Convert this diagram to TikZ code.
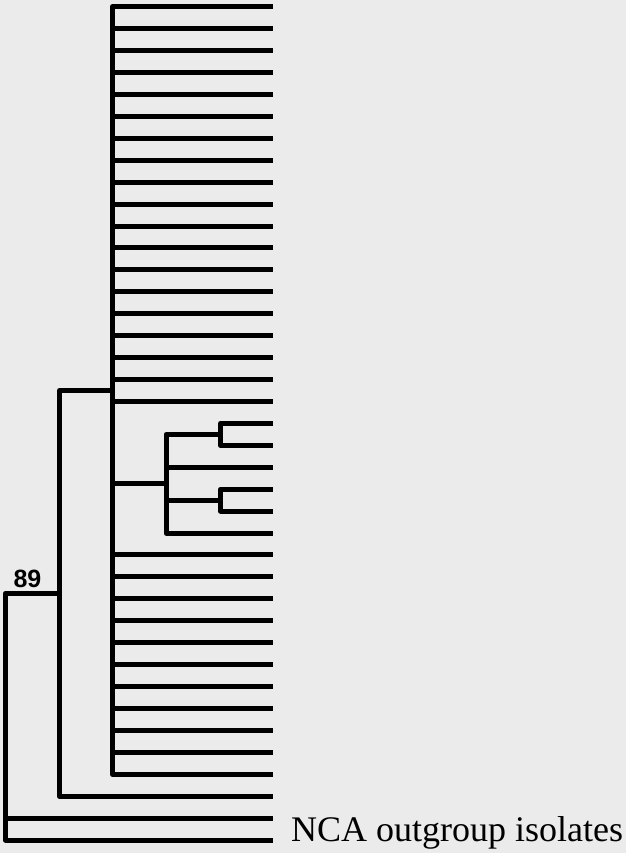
\documentclass[tikz,border=0pt]{standalone}
\usepackage{fontspec}
\setmainfont{Liberation Serif}
\newfontfamily\supfont{Liberation Sans}
\usetikzlibrary{calc,positioning}
\definecolor{bggray}{HTML}{EBEBEB}
\newcommand\leafy[1]{6.7+21.93*#1}
\tikzset{branch/.style={line width=5pt,line join=round,line cap=butt}}

\begin{document}
\begin{tikzpicture}[x=1pt,y=-1pt]
\fill[bggray] (0,0) rectangle (626,853);
\useasboundingbox (0,0) rectangle (626,853);
% tips and inner nodes
\foreach \i in {0,...,38}{\coordinate (t\i) at (273.3,{\leafy{\i}});}
\coordinate (cA) at (220.5,{\leafy{19.5}});
\coordinate (cB) at (220.5,{\leafy{22.5}});
\coordinate (sub) at (166,{\leafy{21.75}});
\coordinate (main) at (112.5,{\leafy{17.5}});
\coordinate (n2) at (59.5,{\leafy{26.75}});
\coordinate (root) at (5.5,{\leafy{32.375}});
% branches
\foreach \i in {0,...,18}{\draw[branch] (main) |- (t\i);}
\foreach \i in {25,...,35}{\draw[branch] (main) |- (t\i);}
\draw[branch] (main) |- (sub);
\foreach \k in {cA,t21,cB,t24}{\draw[branch] (sub) |- (\k);}
\foreach \i in {19,20}{\draw[branch] (cA) |- (t\i);}
\foreach \i in {22,23}{\draw[branch] (cB) |- (t\i);}
\draw[branch] (n2) |- (main);
\draw[branch] (n2) |- (t36);
\foreach \k in {n2,t37,t38}{\draw[branch] (root) |- (\k);}
% labels
\node[anchor=base,inner sep=0,font=\supfont\bfseries\fontsize{25}{30}\selectfont] (bs89) at (27.5,587.7){89};
\node[anchor=base west,inner sep=0,font=\fontsize{36}{40}\selectfont] (outg) at (291,841.7){NCA outgroup isolates};
\end{tikzpicture}
\end{document}
